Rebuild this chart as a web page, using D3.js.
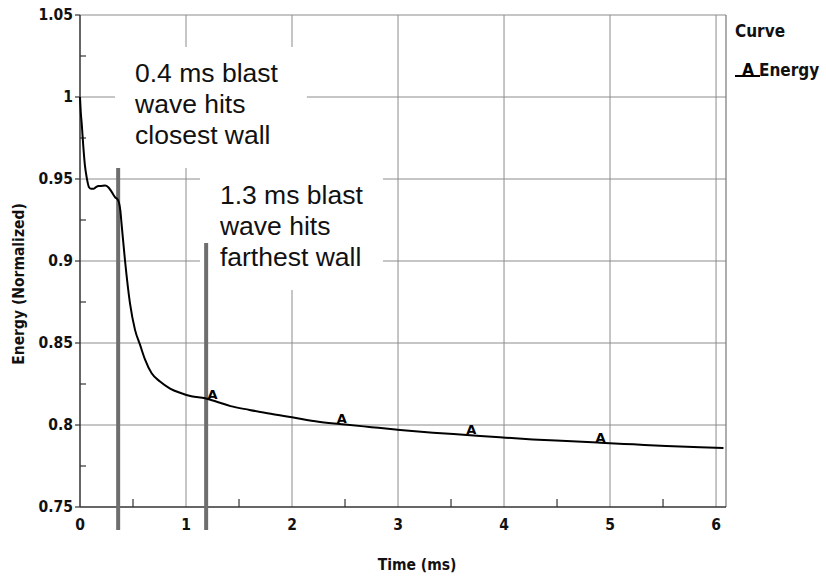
<!DOCTYPE html>
<html>
<head>
<meta charset="utf-8">
<script src="https://cdn.jsdelivr.net/npm/d3@7"></script>
<style>
  html, body { margin: 0; padding: 0; background: #fff; }
  svg { display: block; }
  .tick-label { font-family: "DejaVu Sans Condensed", "DejaVu Sans", sans-serif; font-weight: bold; font-size: 15.5px; fill: #111; }
  .note { font-family: "Liberation Sans", Arial, sans-serif; font-size: 26.5px; fill: #111; }
</style>
</head>
<body>
<div id="chart"></div>
<script>
// curve samples
const timeMs = [0, 0.008, 0.016, 0.031, 0.047, 0.063, 0.085, 0.105, 0.126, 0.15, 0.173, 0.2,
  0.236, 0.267, 0.3, 0.33, 0.36, 0.38, 0.393, 0.425, 0.472, 0.519, 0.566, 0.613, 0.676,
  0.755, 0.85, 0.95, 1.05, 1.18, 1.29, 1.42, 1.6, 1.8, 2.0, 2.25, 2.5, 2.75, 3.02, 3.33,
  3.65, 3.96, 4.27, 4.59, 4.91, 5.22, 5.53, 5.85, 6.07];
const energy = [1.0, 0.99, 0.984, 0.97, 0.958, 0.951, 0.945, 0.944, 0.944, 0.945, 0.9457, 0.9458,
  0.946, 0.945, 0.942, 0.939, 0.937, 0.931, 0.922, 0.9, 0.874, 0.858, 0.849, 0.84, 0.8315,
  0.8265, 0.8222, 0.8195, 0.8175, 0.8163, 0.8142, 0.8115, 0.8092, 0.8068, 0.8047, 0.802,
  0.8003, 0.7987, 0.797, 0.7953, 0.7939, 0.7925, 0.7912, 0.7902, 0.7892, 0.7882, 0.7872,
  0.7864, 0.786];

// "A" symbols along the curve
const markerTime = [1.25, 2.47, 3.69, 4.91];
const markerEnergy = [0.8152, 0.8004, 0.7936, 0.7891];

// event lines (ms) and their top ends (energy)
const eventTime = [0.36, 1.19];
const eventTop = [0.9567, 0.911];

const xTicks = [0, 1, 2, 3, 4, 5, 6];
const xMinor = [0.5, 1.5, 2.5, 3.5, 4.5, 5.5];
const yTicks = [0.75, 0.8, 0.85, 0.9, 0.95, 1, 1.05];
const yTickLabels = ["0.75", "0.8", "0.85", "0.9", "0.95", "1", "1.05"];
const yMinor = [0.775, 0.825, 0.875, 0.925, 0.975, 1.025];

const noteLines = [
  ["0.4 ms blast", "wave hits", "closest wall"],
  ["1.3 ms blast", "wave hits", "farthest wall"],
];
// note boxes in data units: [t0, t1, eTop, eBottom], text anchor [t, e]
const noteBox = [[0.33, 2.14, 1.0305, 0.9567], [1.132, 2.858, 0.9567, 0.8823]];
const noteAnchor = [[0.519, 1.0146], [1.32, 0.9402]];

const width = 826, height = 580;
const margin = { left: 80, right: 100, top: 15, bottom: 73 };

const svg = d3.select("#chart").append("svg")
  .attr("width", width).attr("height", height);

const xScale = d3.scaleLinear().domain([0, 6.094]).range([margin.left, width - margin.right]);
const yScale = d3.scaleLinear().domain([0.75, 1.05]).range([height - margin.bottom, margin.top]);

const x0 = xScale.range()[0], x1 = xScale.range()[1];
const y0 = yScale.range()[0], y1 = yScale.range()[1];
const gridColor = "#8c8c8c";

// grid
svg.append("g").selectAll("line").data(xTicks.slice(1)).join("line")
  .attr("x1", d => xScale(d)).attr("x2", d => xScale(d))
  .attr("y1", y1).attr("y2", y0)
  .attr("stroke", gridColor).attr("stroke-width", 1);
svg.append("g").selectAll("line").data(yTicks.slice(1)).join("line")
  .attr("x1", x0).attr("x2", x1)
  .attr("y1", d => yScale(d)).attr("y2", d => yScale(d))
  .attr("stroke", gridColor).attr("stroke-width", 1);

// frame
svg.append("line").attr("x1", x1).attr("x2", x1).attr("y1", y1).attr("y2", y0)
  .attr("stroke", "#777").attr("stroke-width", 1.2);

// white note boxes over the grid
noteBox.forEach((b, i) => {
  svg.append("rect")
    .attr("x", xScale(b[0])).attr("y", yScale(b[2]))
    .attr("width", xScale(b[1]) - xScale(b[0]))
    .attr("height", yScale(b[3]) - yScale(b[2]))
    .attr("fill", "#fff");
  const t = svg.append("text").attr("class", "note")
    .attr("x", xScale(noteAnchor[i][0]))
    .attr("y", yScale(noteAnchor[i][1]))
    .attr("dominant-baseline", "central");
  noteLines[i].forEach((s, j) => {
    t.append("tspan").attr("x", xScale(noteAnchor[i][0])).attr("dy", j === 0 ? 0 : 31).text(s);
  });
});

// axes lines
svg.append("line").attr("x1", x0).attr("x2", x0).attr("y1", y1).attr("y2", y0)
  .attr("stroke", "#333").attr("stroke-width", 1.5);
svg.append("line").attr("x1", x0).attr("x2", x1).attr("y1", y0).attr("y2", y0)
  .attr("stroke", "#333").attr("stroke-width", 1.5);

// y ticks
svg.append("g").selectAll("line").data(yTicks).join("line")
  .attr("x1", x0 - 5).attr("x2", x0)
  .attr("y1", d => yScale(d)).attr("y2", d => yScale(d))
  .attr("stroke", "#333").attr("stroke-width", 1.2);
svg.append("g").selectAll("line").data(yMinor).join("line")
  .attr("x1", x0).attr("x2", x0 + 6)
  .attr("y1", d => yScale(d)).attr("y2", d => yScale(d))
  .attr("stroke", "#333").attr("stroke-width", 1.2);
svg.append("g").selectAll("text").data(yTicks).join("text")
  .attr("class", "tick-label")
  .attr("x", x0 - 7).attr("y", d => yScale(d))
  .attr("text-anchor", "end").attr("dominant-baseline", "central")
  .text((d, i) => yTickLabels[i]);

// x ticks
svg.append("g").selectAll("line").data(xMinor).join("line")
  .attr("x1", d => xScale(d)).attr("x2", d => xScale(d))
  .attr("y1", y0 - 8).attr("y2", y0)
  .attr("stroke", "#333").attr("stroke-width", 1.2);
svg.append("g").selectAll("text").data(xTicks).join("text")
  .attr("class", "tick-label")
  .attr("x", d => xScale(d)).attr("y", y0 + 18)
  .attr("text-anchor", "middle").attr("dominant-baseline", "central")
  .text(d => d);

// axis titles
svg.append("text").attr("class", "tick-label")
  .attr("x", 417).attr("y", 565)
  .attr("text-anchor", "middle").attr("dominant-baseline", "central")
  .text("Time (ms)");
svg.append("text").attr("class", "tick-label")
  .attr("transform", "translate(19,284) rotate(-90)")
  .attr("text-anchor", "middle").attr("dominant-baseline", "central")
  .text("Energy (Normalized)");

// event lines
svg.append("g").selectAll("line").data(eventTime).join("line")
  .attr("x1", d => xScale(d)).attr("x2", d => xScale(d))
  .attr("y1", (d, i) => yScale(eventTop[i])).attr("y2", y0 + 23)
  .attr("stroke", "#6e6e6e").attr("stroke-width", 4);

// curve
const line = d3.line().x((d, i) => xScale(timeMs[i])).y(d => yScale(d)).curve(d3.curveMonotoneX);
svg.append("path").datum(energy)
  .attr("d", line)
  .attr("fill", "none").attr("stroke", "#000").attr("stroke-width", 2);

// markers
svg.append("g").selectAll("text").data(markerTime).join("text")
  .attr("x", d => xScale(d)).attr("y", (d, i) => yScale(markerEnergy[i]) - 1)
  .attr("text-anchor", "middle")
  .attr("font-family", "DejaVu Sans, sans-serif").attr("font-size", 13).attr("font-weight", "bold")
  .attr("fill", "#000")
  .text("A");

// legend
svg.append("text").attr("class", "tick-label")
  .attr("x", 735).attr("y", 31).attr("dominant-baseline", "central")
  .style("font-size", "17px")
  .text("Curve");
svg.append("line").attr("x1", 735).attr("x2", 760).attr("y1", 76).attr("y2", 76)
  .attr("stroke", "#000").attr("stroke-width", 2);
svg.append("text").attr("x", 748).attr("y", 75).attr("text-anchor", "middle")
  .attr("font-family", "DejaVu Sans, sans-serif").attr("font-size", 15).attr("font-weight", "bold")
  .attr("fill", "#000")
  .text("A");
svg.append("text").attr("class", "tick-label")
  .attr("x", 759).attr("y", 70).attr("dominant-baseline", "central")
  .style("font-size", "17px")
  .text("Energy");
</script>
</body>
</html>
